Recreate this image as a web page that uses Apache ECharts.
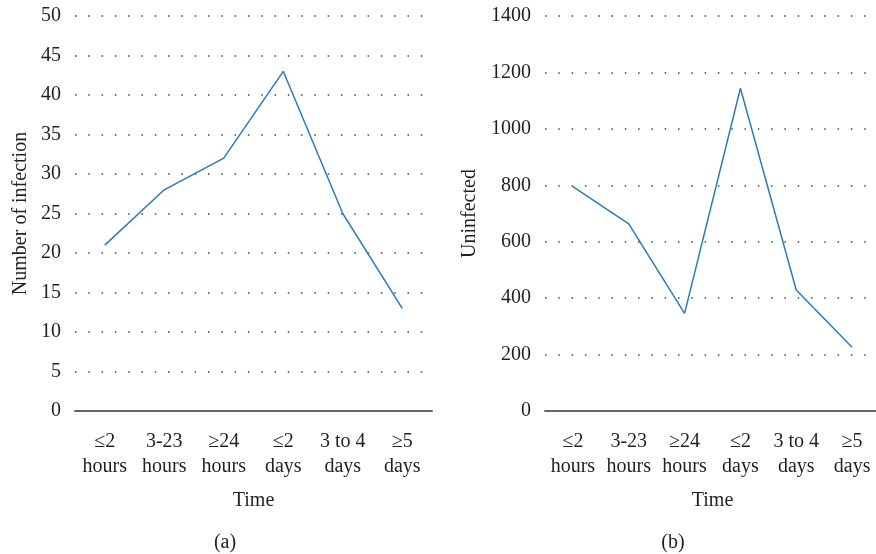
<!DOCTYPE html>
<html>
<head>
<meta charset="utf-8">
<script src="https://cdn.jsdelivr.net/npm/echarts@6/dist/echarts.min.js"></script>
<style>html,body{margin:0;padding:0;background:#fff}#c{width:876px;height:554px}</style>
</head>
<body>
<div id="c"></div>
<script>
var categories = ['≤2\nhours', '3-23\nhours', '≥24\nhours', '≤2\ndays', '3 to 4\ndays', '≥5\ndays'];
var infected = [21, 28, 32, 43, 25, 13];
var uninfected = [795, 663, 346, 1144, 429, 226];
var leftTicks = {min: 0, max: 50, interval: 5};
var rightTicks = {min: 0, max: 1400, interval: 200};

var FONT = 'Liberation Serif';
var TXT = '#231f20';
var FS = 20;
var chart = echarts.init(document.getElementById('c'));

function xAxis(idx) {
  return {
    type: 'category', gridIndex: idx, data: categories, boundaryGap: true,
    name: 'Time', nameLocation: 'middle', nameGap: 80,
    nameTextStyle: {fontFamily: FONT, fontSize: FS, color: TXT},
    axisLine: {lineStyle: {color: '#666', width: 2}},
    axisTick: {show: false},
    axisLabel: {fontFamily: FONT, fontSize: FS, color: TXT, lineHeight: 25, margin: 18, interval: 0}
  };
}
function yAxis(idx, t, name, gap) {
  return {
    type: 'value', gridIndex: idx, min: t.min, max: t.max, interval: t.interval,
    name: name, nameLocation: 'middle', nameGap: gap,
    nameTextStyle: {fontFamily: FONT, fontSize: FS, color: TXT},
    axisLine: {show: false}, axisTick: {show: false},
    axisLabel: {fontFamily: FONT, fontSize: FS, color: TXT, margin: 14, formatter: function (v) { return String(v); }},
    splitLine: {show: true, lineStyle: {color: '#444', width: 1.5, type: [1.5, 11.8]}}
  };
}

chart.setOption({
  animation: false,
  title: [
    {text: '(a)', left: 220, top: 528, textAlign: 'center', textStyle: {fontFamily: FONT, fontSize: FS, fontWeight: 'normal', color: TXT}},
    {text: '(b)', left: 668, top: 528, textAlign: 'center', textStyle: {fontFamily: FONT, fontSize: FS, fontWeight: 'normal', color: TXT}}
  ],
  grid: [
    {left: 75, width: 357, top: 16, bottom: 143, outerBoundsMode: 'none', containLabel: false},
    {left: 545, width: 335, top: 16, bottom: 143, outerBoundsMode: 'none', containLabel: false}
  ],
  xAxis: [xAxis(0), xAxis(1)],
  yAxis: [yAxis(0, leftTicks, 'Number of infection', 44), yAxis(1, rightTicks, 'Uninfected', 65)],
  series: [
    {type: 'line', xAxisIndex: 0, yAxisIndex: 0, data: infected, symbol: 'none', lineStyle: {color: '#2b7bbf', width: 1.5}},
    {type: 'line', xAxisIndex: 1, yAxisIndex: 1, data: uninfected, symbol: 'none', lineStyle: {color: '#2b7bbf', width: 1.5}}
  ]
});
</script>
</body>
</html>
